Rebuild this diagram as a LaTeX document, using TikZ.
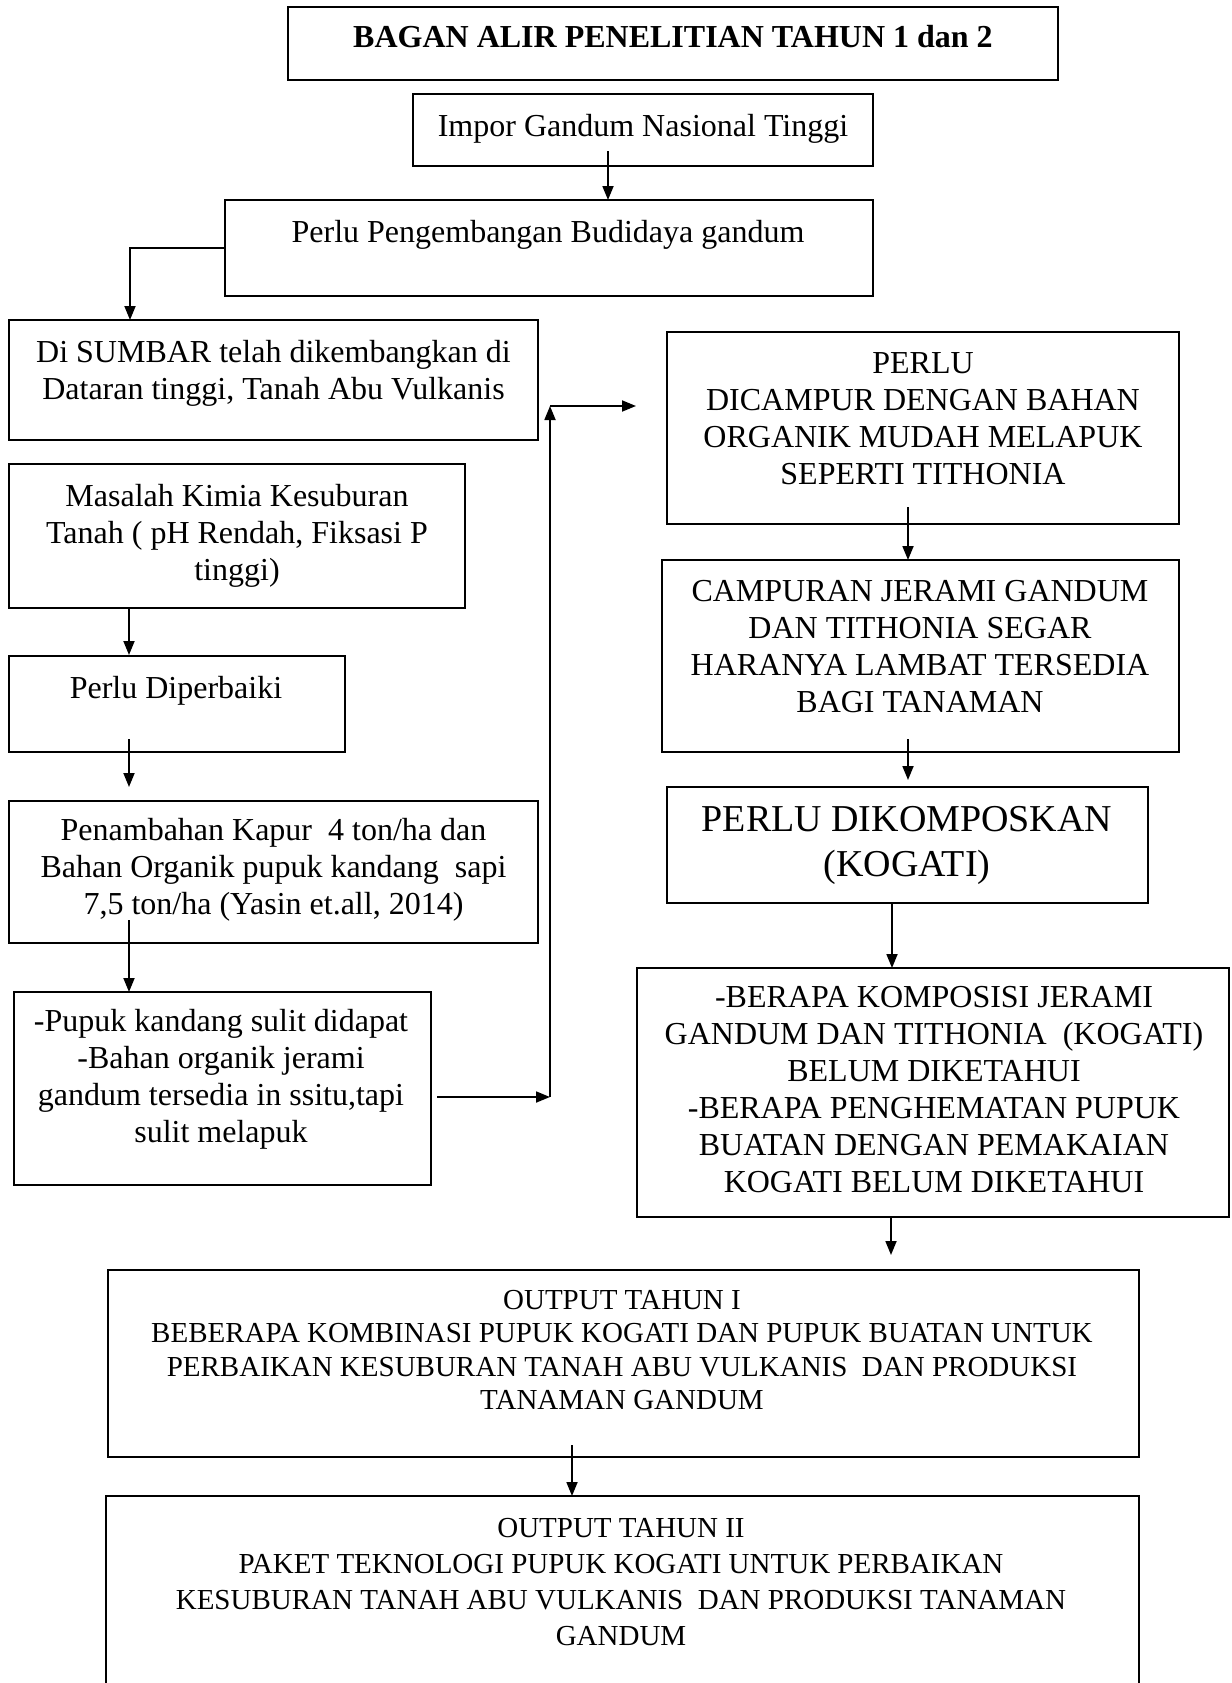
\documentclass[tikz,border=0pt]{standalone}
\usepackage{fontspec}
\setmainfont{Liberation Serif}
\usetikzlibrary{arrows.meta}
\begin{document}
\begin{tikzpicture}[x=1pt,y=-1pt,
  box/.style={draw, line width=1.6pt, rectangle, inner sep=0pt, outer sep=0pt},
  txt/.style={align=center, inner sep=0pt, font=\fontsize{32}{37}\selectfont},
  bigtxt/.style={align=center, inner sep=0pt, font=\fontsize{38}{45}\selectfont},
  smalltxt/.style={align=center, inner sep=0pt, font=\fontsize{29}{33.5}\selectfont},
  arr/.style={line width=1.8pt, -{Triangle[length=14pt,width=11pt]}},
  ln/.style={line width=1.8pt}]
\useasboundingbox (0,0) rectangle (1231,1683);
\fill[white] (0,0) rectangle (1231,1683);

% boxes
\node[box, minimum width=770pt, minimum height=73pt] (title) at (673,43.5) {};
\node[box, minimum width=460pt, minimum height=72pt] (impor) at (643,130) {};
\node[box, minimum width=648pt, minimum height=96pt] (pengemb) at (549,248) {};
\node[box, minimum width=529pt, minimum height=120pt] (sumbar) at (273.5,380) {};
\node[box, minimum width=456pt, minimum height=144pt] (masalah) at (237,536) {};
\node[box, minimum width=336pt, minimum height=96pt] (perbaiki) at (177,704) {};
\node[box, minimum width=529pt, minimum height=142pt] (kapur) at (273.5,872) {};
\node[box, minimum width=417pt, minimum height=193pt] (pupuk) at (222.5,1088.5) {};
\node[box, minimum width=512pt, minimum height=192pt] (perlu) at (923,428) {};
\node[box, minimum width=517pt, minimum height=192pt] (campuran) at (920.5,656) {};
\node[box, minimum width=481pt, minimum height=116pt] (kompos) at (907.5,845) {};
\node[box, minimum width=592pt, minimum height=249pt] (berapa) at (933,1092.5) {};
\node[box, minimum width=1031pt, minimum height=187pt] (out1) at (623.5,1363.5) {};
\node[box, minimum width=1033pt, minimum height=204pt] (out2) at (622.5,1598) {};

% texts
\node[txt] (ttitle) at (673,37) {\bfseries BAGAN ALIR PENELITIAN TAHUN 1 dan 2};
\node[txt] (timpor) at (643,129) {Impor Gandum Nasional Tinggi};
\node[txt] (tpengemb) at (548,235) {Perlu Pengembangan Budidaya gandum};
\node[txt] (tsumbar) at (273.5,373) {Di SUMBAR telah dikembangkan di\\Dataran tinggi, Tanah Abu Vulkanis};
\node[txt] (tmasalah) at (237,536) {Masalah Kimia Kesuburan\\Tanah ( pH Rendah, Fiksasi P\\tinggi)};
\node[txt] (tperbaiki) at (176,691) {Perlu Diperbaiki};
\node[txt] (tkapur) at (273.5,870) {Penambahan Kapur\ \ 4 ton/ha dan\\Bahan Organik pupuk kandang\ \ sapi\\7,5 ton/ha (Yasin et.all, 2014)};
\node[txt] (tpupuk) at (221,1079) {-Pupuk kandang sulit didapat\\-Bahan organik jerami\\gandum tersedia in ssitu,tapi\\sulit melapuk};
\node[txt] (tperlu) at (923,419) {PERLU\\DICAMPUR DENGAN BAHAN\\ORGANIK MUDAH MELAPUK\\SEPERTI TITHONIA};
\node[txt] (tcampuran) at (920,647) {CAMPURAN JERAMI GANDUM\\DAN TITHONIA SEGAR\\HARANYA LAMBAT TERSEDIA\\BAGI TANAMAN};
\node[bigtxt] (tkompos) at (907,845) {PERLU DIKOMPOSKAN\\(KOGATI)};
\node[txt] (tberapa) at (934,1090) {-BERAPA KOMPOSISI JERAMI\\GANDUM DAN TITHONIA\ \ (KOGATI)\\BELUM DIKETAHUI\\-BERAPA PENGHEMATAN PUPUK\\BUATAN DENGAN PEMAKAIAN\\KOGATI BELUM DIKETAHUI};
\node[smalltxt] (tout1) at (622,1350) {OUTPUT TAHUN I\\BEBERAPA KOMBINASI PUPUK KOGATI DAN PUPUK BUATAN UNTUK\\PERBAIKAN KESUBURAN TANAH ABU VULKANIS\ \ DAN PRODUKSI\\TANAMAN GANDUM};
\node[smalltxt, font=\fontsize{29}{36}\selectfont] (tout2) at (621,1582) {OUTPUT TAHUN II\\PAKET TEKNOLOGI PUPUK KOGATI UNTUK PERBAIKAN\\KESUBURAN TANAH ABU VULKANIS\ \ DAN PRODUKSI TANAMAN\\GANDUM};

% junction coordinates
\coordinate (c1) at (130,248);
\coordinate (j1) at (550,1097);
\coordinate (j2) at (550,406);
\coordinate (e3) at (636,406);

% connectors
\draw[arr] (impor.south -| 608,0) ++(0,-15) -- (pengemb.north -| 608,0);
\draw[arr] (pengemb.west |- c1) -- (c1) -- (sumbar.north -| c1);
\draw[arr] (masalah.south -| 129,0) -- ++(0,47);
\draw[arr] (perbaiki.south -| 129,0) ++(0,-13) -- ++(0,48);
\draw[arr] (kapur.south -| 129,0) ++(0,-23) -- (pupuk.north -| 129,0);
\draw[arr] (pupuk.east |- j1) ++(6,0) -- (j1);
\draw[arr] (j1) -- (j2);
\draw[arr] (j2) -- (e3);
\draw[arr] (perlu.south -| 908,0) ++(0,-17) -- (campuran.north -| 908,0);
\draw[arr] (campuran.south -| 908,0) ++(0,-13) -- ++(0,41);
\draw[arr] (kompos.south -| 892,0) -- (berapa.north -| 892,0);
\draw[arr] (berapa.south -| 891,0) -- ++(0,38);
\draw[arr] (out1.south -| 572,0) ++(0,-12) -- (out2.north -| 572,0);
\end{tikzpicture}
\end{document}
